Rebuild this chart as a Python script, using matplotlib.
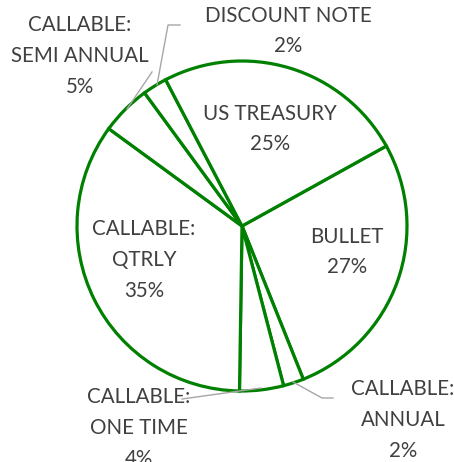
import matplotlib
matplotlib.use("Agg")
import matplotlib.pyplot as plt

categories = ["BULLET", "CALLABLE:\nANNUAL", "CALLABLE:\nONE TIME", "CALLABLE:\nQTRLY",
              "CALLABLE:\nSEMI ANNUAL", "DISCOUNT NOTE", "US TREASURY"]
values = [27.0, 2.0, 4.3, 34.8, 4.9, 2.4, 24.6]

W, H = 454, 462
fig = plt.figure(figsize=(W / 100, H / 100), dpi=100)
ax = fig.add_axes([0, 0, 1, 1])

GREEN = "#008000"
cx, cy, r = 242, H - 226, 165
ax.pie(values, center=(cx, cy), radius=r, startangle=29, counterclock=False,
       colors=["white"] * len(values),
       wedgeprops=dict(edgecolor=GREEN, linewidth=2.3, joinstyle="miter"))
ax.set_xlim(0, W)
ax.set_ylim(0, H)
ax.set_aspect("auto")
ax.axis("off")

total = sum(values)
# label centers in pixel coords (x, y from top)
label_pos = [(347, 252), (403, 420), (139, 428), (144, 260), (80, 56), (288, 31), (270, 129)]
TXT = "#404040"
for cat, v, (px, py) in zip(categories, values, label_pos):
    ax.text(px, H - py, f"{cat}\n{round(100 * v / total)}%", ha="center", va="center",
            fontsize=14.8, color=TXT, family="Lato", linespacing=1.68)

GRAY = "#A6A6A6"
leaders = [
    [(180, 25), (168, 25), (157, 85)],
    [(152, 72), (127, 109)],
    [(182, 399), (261, 388)],
    [(333, 398), (322, 398), (293, 382)],
]
for pts in leaders:
    xs = [p[0] for p in pts]
    ys = [H - p[1] for p in pts]
    ax.plot(xs, ys, color=GRAY, lw=1.0)

fig.savefig("out.png", dpi=100)
